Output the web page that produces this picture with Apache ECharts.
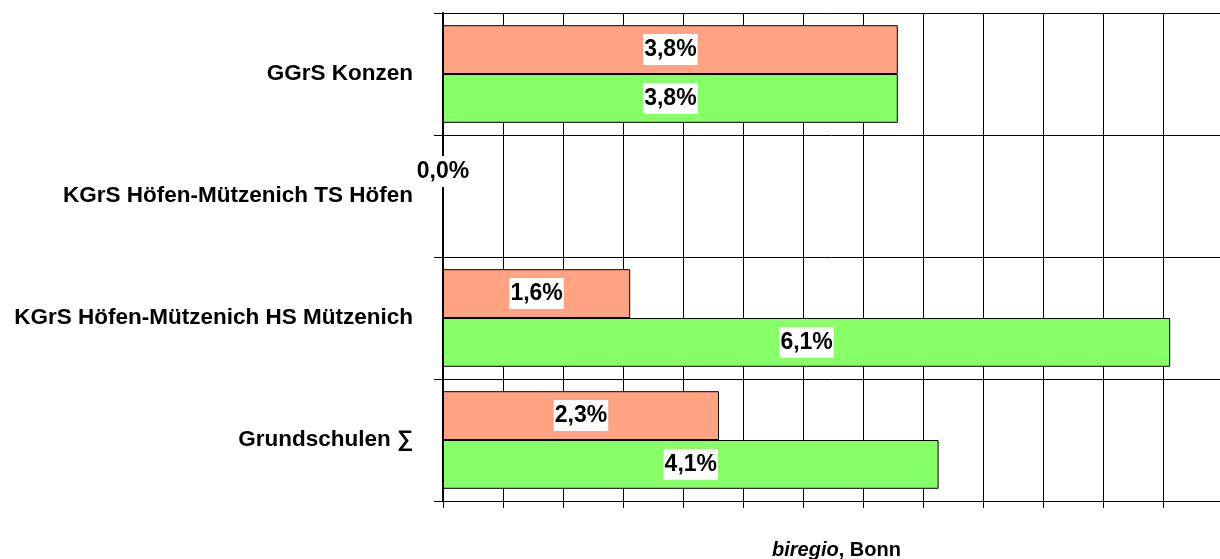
<!DOCTYPE html>
<html>
<head>
<meta charset="utf-8">
<script src="https://cdn.jsdelivr.net/npm/echarts@6/dist/echarts.min.js"></script>
<style>
  html, body { margin: 0; padding: 0; background: #fff; }
  #main { width: 1220px; height: 559px; }
</style>
</head>
<body>
<div id="main"></div>
<script>
var chartDom = document.getElementById('main');
var myChart = echarts.init(chartDom);

// Kategorien (von oben nach unten)
var schulen = [
  'GGrS Konzen',
  'KGrS Höfen-Mützenich TS Höfen',
  'KGrS Höfen-Mützenich HS Mützenich',
  'Grundschulen ∑'
];
// Werte in Prozent
var reiheA = [3.79, 0, 1.56, 2.3];      // lachsfarben
var reiheB = [3.79, null, 6.06, 4.13];  // grün

var font = '"Liberation Sans", Arial, sans-serif';

function fmt(p) {
  return p.value.toFixed(1).replace('.', ',') + '%';
}

var barLabel = {
  show: true,
  position: 'inside',
  formatter: fmt,
  color: '#000',
  fontFamily: font,
  fontWeight: 'bold',
  fontSize: 23,
  lineHeight: 25,
  backgroundColor: '#fff',
  padding: [3, 1]
};

var option = {
  animation: false,
  title: {
    text: '{i|biregio}{b|, Bonn}',
    left: 767,
    top: 535,
    textStyle: {
      fontWeight: 700,
      rich: {
        i: { fontFamily: font, fontSize: 20, fontWeight: 700, fontStyle: 'italic', color: '#000' },
        b: { fontFamily: font, fontSize: 20, fontWeight: 700, fontStyle: 'normal', color: '#000' }
      }
    }
  },
  grid: { left: 443, top: 13, right: 0, bottom: 58 },
  xAxis: {
    type: 'value',
    min: 0,
    max: 6.475,
    interval: 0.5,
    axisLabel: { show: false },
    axisLine: { show: true, lineStyle: { color: '#000', width: 1 } },
    axisTick: { show: true, length: 7, lineStyle: { color: '#000' } },
    splitLine: { show: true, lineStyle: { color: '#000', width: 1 } }
  },
  yAxis: {
    type: 'category',
    inverse: true,
    data: schulen,
    axisLine: { show: true, lineStyle: { color: '#000', width: 2 } },
    axisTick: { show: true, length: 9, lineStyle: { color: '#000' } },
    splitLine: { show: true, lineStyle: { color: '#000', width: 1 } },
    axisLabel: {
      margin: 30,
      color: '#000',
      fontFamily: font,
      fontWeight: 'bold',
      fontSize: 22.5,
      padding: [8, 0, 0, 0]
    }
  },
  series: [
    {
      type: 'bar',
      data: reiheA,
      barGap: '0%',
      barCategoryGap: '20%',
      itemStyle: { color: '#ffa383', borderColor: '#000', borderWidth: 1 },
      label: barLabel
    },
    {
      type: 'bar',
      data: reiheB,
      barGap: '0%',
      barCategoryGap: '20%',
      itemStyle: { color: '#87ff66', borderColor: '#000', borderWidth: 1 },
      label: barLabel
    }
  ]
};

myChart.setOption(option);
</script>
</body>
</html>
